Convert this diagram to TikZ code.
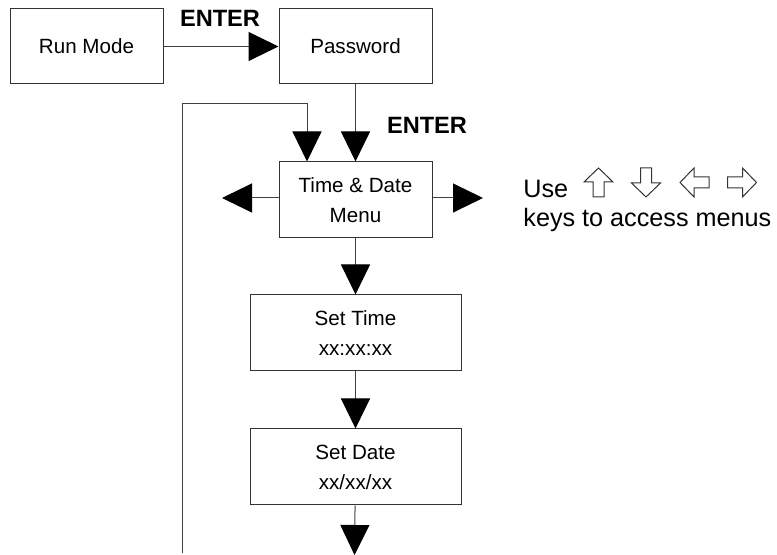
\documentclass[tikz,border=0pt]{standalone}
\usepackage{fontspec}
\setmainfont{Liberation Sans}
\usetikzlibrary{positioning,arrows.meta}

\begin{document}
\begin{tikzpicture}[
    x=0.5pt,y=-0.5pt,
    every node/.style={font=\fontsize{10.3}{15}\selectfont},
    menubox/.style={rectangle,draw=black!80,line width=0.5pt,align=center,
      minimum width=76.5pt,minimum height=37.5pt,inner sep=0pt},
    widebox/.style={menubox,minimum width=105.5pt,minimum height=38pt},
    arrow/.style={-{Triangle[length=15pt,width=14.5pt,color=black]},line width=0.5pt,black!75},
    keylabel/.style={font=\fontsize{11.8}{12}\selectfont\bfseries},
    keyarrow/.pic={\draw[black!80,line width=0.5pt,line join=miter]
      (0,-14.5) -- (14.5,-0.5) -- (5.5,-0.5) -- (5.5,14.5) -- (-5.5,14.5)
      -- (-5.5,-0.5) -- (-14.5,-0.5) -- cycle;},
  ]
  \useasboundingbox (0,0) rectangle (777,555);
  \node[menubox] (runmode) at (86.5,46.5) {Run Mode};
  \node[menubox,right=57.5pt of runmode] (password) {Password};
  \node[menubox,below=38.5pt of password,minimum height=38pt] (timedate) {Time \& Date\\Menu};
  \node[widebox,below=28pt of timedate] (settime) {Set Time\\xx:xx:xx};
  \node[widebox,below=28.5pt of settime] (setdate) {Set Date\\xx/xx/xx};
  \node[keylabel] (enterA) at (220,18) {ENTER};
  \node[keylabel] (enterB) at (427,125) {ENTER};
  \node[anchor=west,align=left,inner sep=0pt,font=\fontsize{12.6}{14.5}\selectfont] (keyhint) at (523,206)
    {Use\\keys to access menus};
  % key symbols
  \pic at (598.5,182.5) {keyarrow};
  \pic[rotate=180] at (646,182.5) {keyarrow};
  \pic[rotate=90] at (694.5,182.5) {keyarrow};
  \pic[rotate=-90] at (742,182.5) {keyarrow};
  \draw[arrow] (runmode) -- (password);
  \draw[arrow] (password) -- (timedate);
  \draw[arrow] (timedate) -- (settime);
  \draw[arrow] (settime) -- (setdate);
  % free ends
  \coordinate (leftend) at (222,198);
  \coordinate (rightend) at (483,198);
  \coordinate (bottomend) at (354.5,555);
  \coordinate (loopend) at (182,553);
  \coordinate (looptop) at (307,104);
  \draw[arrow] (timedate.west |- leftend) -- (leftend);
  \draw[arrow] (timedate.east |- rightend) -- (rightend);
  \draw[arrow] (setdate) -- (bottomend);
  \draw[arrow] (loopend) |- (looptop) -- (looptop |- timedate.north);
\end{tikzpicture}
\end{document}
